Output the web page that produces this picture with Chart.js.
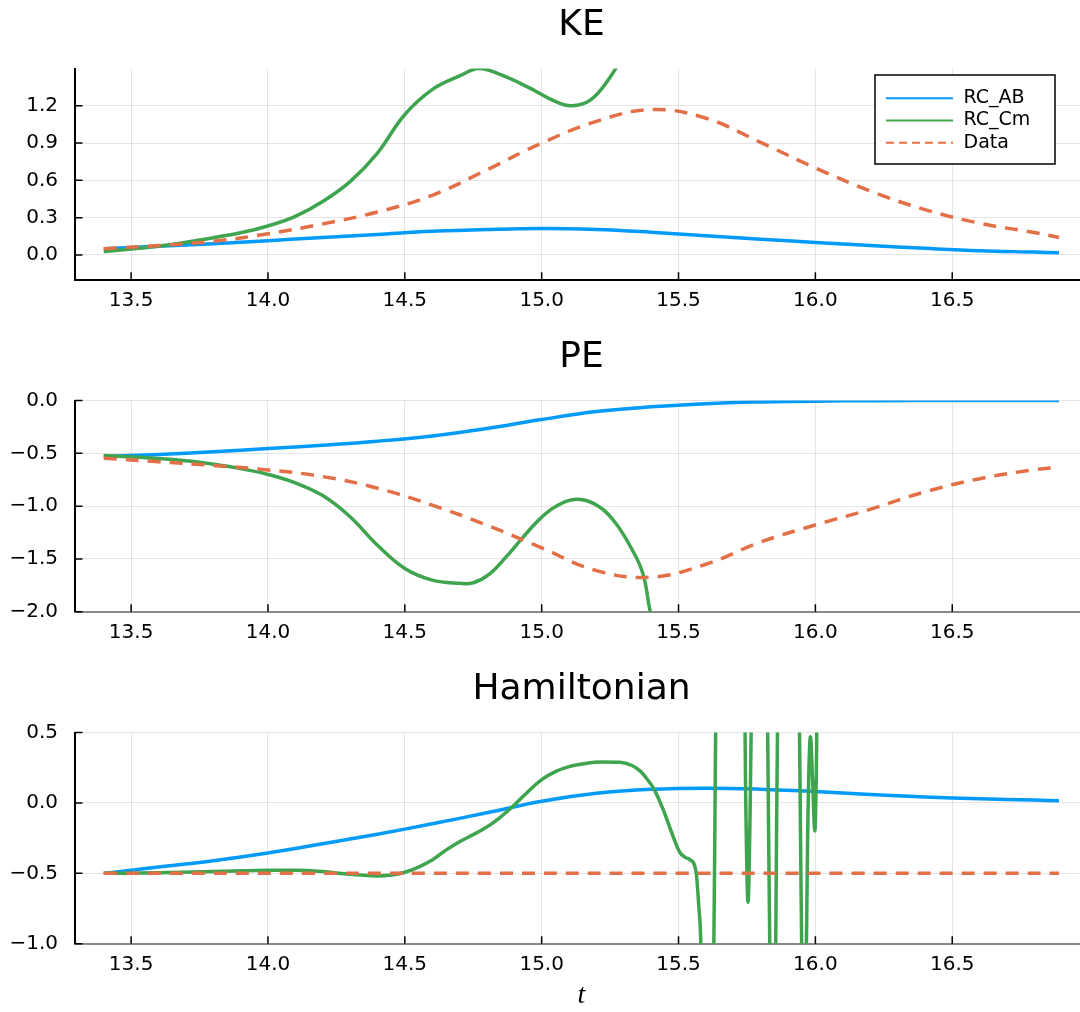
<!DOCTYPE html>
<html>
<head>
<meta charset="utf-8">
<script src="https://cdn.jsdelivr.net/npm/chart.js@4.4.0/dist/chart.umd.min.js"></script>
<style>
  html, body { margin: 0; padding: 0; background: #fff; overflow: hidden; width: 1080px; height: 1012px; }
  canvas { position: absolute; left: 0; }
</style>
</head>
<body>
<canvas id="keChart" width="1088" height="332" style="top:0px"></canvas>
<canvas id="peChart" width="1088" height="332" style="top:332px"></canvas>
<canvas id="hChart" width="1088" height="348" style="top:664px"></canvas>
<script>
/* --- Data --- */
const X_TICKS = [13.5, 14.0, 14.5, 15.0, 15.5, 16.0, 16.5];

// KE
const keAbT = [13.4, 13.6, 13.8, 14.0, 14.2, 14.4, 14.6, 14.8, 15.0, 15.2, 15.4, 15.6, 15.8, 16.0, 16.2, 16.4, 16.6, 16.8, 16.89];
const keAb  = [0.05, 0.07, 0.09, 0.115, 0.14, 0.165, 0.19, 0.205, 0.213, 0.205, 0.183, 0.155, 0.127, 0.10, 0.075, 0.053, 0.034, 0.023, 0.018];
const keCmT = [13.4, 13.6, 13.75, 13.9, 14.0, 14.1, 14.2, 14.3, 14.4, 14.5, 14.6, 14.7, 14.77, 14.85, 14.95, 15.05, 15.11, 15.18, 15.25, 15.3, 15.36];
const keCm  = [0.027, 0.07, 0.12, 0.178, 0.233, 0.31, 0.43, 0.59, 0.82, 1.13, 1.33, 1.44, 1.50, 1.45, 1.35, 1.235, 1.20, 1.25, 1.43, 1.62, 1.9];
const keDataT = [13.4, 13.6, 13.8, 14.0, 14.2, 14.4, 14.6, 14.8, 15.0, 15.2, 15.4, 15.6, 15.8, 16.0, 16.2, 16.4, 16.6, 16.8, 16.89];
const keData  = [0.05, 0.075, 0.11, 0.17, 0.25, 0.345, 0.48, 0.685, 0.90, 1.075, 1.17, 1.10, 0.905, 0.70, 0.515, 0.365, 0.255, 0.18, 0.14];
const keTicks = [0.0, 0.3, 0.6, 0.9, 1.2];

// PE
const peAbT = [13.4, 13.6, 13.8, 14.0, 14.2, 14.4, 14.6, 14.8, 15.0, 15.2, 15.4, 15.6, 15.8, 16.0, 16.2, 16.5, 16.89];
const peAb  = [-0.53, -0.51, -0.485, -0.455, -0.423, -0.385, -0.335, -0.265, -0.18, -0.105, -0.06, -0.03, -0.014, -0.006, -0.002, 0, 0];
const peCmT = [13.4, 13.6, 13.75, 13.9, 14.0, 14.1, 14.2, 14.3, 14.4, 14.5, 14.6, 14.7, 14.75, 14.81, 14.87, 14.93, 14.99, 15.05, 15.13, 15.21, 15.27, 15.33, 15.37, 15.395, 15.43];
const peCm  = [-0.52, -0.55, -0.585, -0.645, -0.70, -0.78, -0.90, -1.10, -1.37, -1.59, -1.70, -1.73, -1.725, -1.64, -1.48, -1.30, -1.13, -1.005, -0.935, -1.005, -1.16, -1.41, -1.64, -1.98, -2.4];
const peDataT = [13.4, 13.6, 13.8, 14.0, 14.2, 14.4, 14.6, 14.8, 15.0, 15.2, 15.4, 15.6, 15.8, 16.0, 16.2, 16.4, 16.6, 16.8, 16.89];
const peData  = [-0.546, -0.58, -0.615, -0.657, -0.72, -0.83, -0.99, -1.18, -1.395, -1.61, -1.672, -1.55, -1.34, -1.178, -1.03, -0.865, -0.74, -0.655, -0.63];
const peTicks = [-2.0, -1.5, -1.0, -0.5, 0.0];

// Hamiltonian
const hAbT = [13.4, 13.6, 13.8, 14.0, 14.2, 14.4, 14.6, 14.8, 15.0, 15.2, 15.4, 15.6, 15.8, 16.0, 16.2, 16.4, 16.6, 16.8, 16.89];
const hAb  = [-0.5, -0.455, -0.41, -0.355, -0.29, -0.222, -0.148, -0.07, 0.012, 0.068, 0.097, 0.105, 0.098, 0.082, 0.06, 0.042, 0.029, 0.02, 0.015];
const hCmT = [13.4, 13.6, 13.8, 14.0, 14.1, 14.2, 14.3, 14.4, 14.5,
  14.6, 14.65, 14.7, 14.75, 14.8, 14.85, 14.9, 14.95, 15.0,
  15.05, 15.1, 15.16, 15.22, 15.285, 15.33, 15.36, 15.385, 15.41,
  15.444, 15.48, 15.505, 15.523, 15.541, 15.559, 15.566, 15.574, 15.581,
  15.59, 15.61, 15.624, 15.632, 15.64, 15.69,
  15.735, 15.745, 15.754, 15.762, 15.772, 15.8,
  15.822, 15.829, 15.836, 15.845, 15.852, 15.858, 15.864, 15.9,
  15.938, 15.946, 15.952, 15.958, 15.964, 15.972, 15.982, 15.99, 15.998, 16.004, 16.01, 16.03];
const hCm  = [-0.5, -0.495, -0.487, -0.478, -0.477, -0.487, -0.507, -0.518, -0.492,
  -0.405, -0.335, -0.275, -0.225, -0.17, -0.10, -0.015, 0.08, 0.165,
  0.222, 0.258, 0.28, 0.29, 0.288, 0.266, 0.226, 0.17, 0.10,
  -0.047, -0.237, -0.352, -0.385, -0.402, -0.445, -0.52, -0.733, -0.969,
  -2.0, -3.0, -2.0, -0.36, 1.4, 3.0,
  2.0, 0.1, -0.705, 0.0, 1.5, 3.0,
  1.2, -0.2, -1.5, -3.0, -1.8, -0.25, 1.0, 3.0,
  1.2, -0.3, -1.4, -2.5, -1.6, -0.2, 0.47, 0.15, -0.2, 0.3, 1.5, 3.0];
const hDataT = [13.4, 16.89];
const hData  = [-0.5, -0.5];
const hTicks = [-1.0, -0.5, 0.0, 0.5];

/* --- Style --- */
const FONT = '"DejaVu Sans", sans-serif';
const BLUE = '#009AFA';
const GREEN = '#3EA44E';
const ORANGE = '#E36F47';
const X_MIN = 13.295;
const X_MAX = 16.996;

Chart.defaults.font.family = FONT;
Chart.defaults.color = '#000';

function fmt(v){
  return (v < 0 ? '\u2212' : '') + Math.abs(v).toFixed(1);
}

// mjuk kurva som standard, monoton där linjen hoppar (Hamiltonian RC_Cm)
function series(label, xs, ys, color, dashed, order, monotone){
  return {
    label,
    data: xs.map((t, i) => ({ x: t, y: ys[i] })),
    borderColor: color,
    backgroundColor: color,
    borderWidth: 3.5,
    borderDash: dashed ? [13, 9] : [],
    pointRadius: 0,
    tension: monotone ? 0 : 0.4,
    cubicInterpolationMode: monotone ? 'monotone' : 'default',
    capBezierPoints: false,
    fill: false,
    order
  };
}

/* --- Inåtriktade tickmarkeringar --- */
const innerTicks = {
  id: 'innerTicks',
  beforeDatasetsDraw(chart){
    const { ctx, chartArea: { left, bottom }, scales: { x, y } } = chart;
    ctx.save();
    ctx.strokeStyle = '#000';
    ctx.lineWidth = 1.5;
    ctx.beginPath();
    x.ticks.forEach(t => {
      const px = x.getPixelForValue(t.value);
      ctx.moveTo(px, bottom);
      ctx.lineTo(px, bottom - 7.5);
    });
    y.ticks.forEach(t => {
      const py = y.getPixelForValue(t.value);
      ctx.moveTo(left, py);
      ctx.lineTo(left + 7.5, py);
    });
    ctx.stroke();
    ctx.restore();
  }
};

/* --- Titel centrerad över plotytan --- */
const panelTitle = {
  id: 'panelTitle',
  afterDraw(chart, args, opts){
    const { ctx, chartArea } = chart;
    ctx.save();
    ctx.font = '36px ' + FONT;
    ctx.fillStyle = '#000';
    ctx.textAlign = 'center';
    ctx.textBaseline = 'middle';
    ctx.fillText(opts.text, (chartArea.left + chartArea.right) / 2, chartArea.top - 43);
    ctx.restore();
  }
};

/* --- Legend med ram --- */
const boxLegend = {
  id: 'boxLegend',
  afterDraw(chart, args, opts){
    if (!opts.show) return;
    const { ctx, chartArea } = chart;
    const w = 180, h = 89;
    const x0 = chartArea.right - 33 - w;
    const y0 = chartArea.top + 6.5;
    ctx.save();
    ctx.fillStyle = '#fff';
    ctx.fillRect(x0, y0, w, h);
    ctx.strokeStyle = '#000';
    ctx.lineWidth = 1.5;
    ctx.strokeRect(x0, y0, w, h);
    ctx.font = '19px ' + FONT;
    ctx.textAlign = 'left';
    ctx.textBaseline = 'middle';
    chart.data.datasets.forEach((ds, i) => {
      const yy = y0 + 23.3 + i * 22.2;
      ctx.strokeStyle = ds.borderColor;
      ctx.lineWidth = 2;
      ctx.setLineDash(ds.borderDash.length ? [8, 5] : []);
      ctx.beginPath();
      ctx.moveTo(x0 + 11, yy);
      ctx.lineTo(x0 + 78, yy);
      ctx.stroke();
      ctx.setLineDash([]);
      ctx.fillStyle = '#000';
      ctx.fillText(ds.label, x0 + 88.5, yy);
    });
    ctx.restore();
  }
};

function makeChart(id, title, datasets, yMin, yMax, yTicks, xHeight, bottomColor, showLegend, xTitle){
  return new Chart(document.getElementById(id), {
    type: 'line',
    data: { datasets },
    options: {
      responsive: false,
      animation: false,
      devicePixelRatio: 1,
      layout: { padding: { top: 68.5, left: 0, right: 0, bottom: 0 } },
      plugins: {
        legend: { display: false },
        tooltip: { enabled: false },
        panelTitle: { text: title },
        boxLegend: { show: showLegend }
      },
      scales: {
        x: {
          type: 'linear',
          min: X_MIN,
          max: X_MAX,
          afterBuildTicks: s => { s.ticks = X_TICKS.map(v => ({ value: v })); },
          afterFit: s => { s.height = xHeight; },
          ticks: {
            callback: v => v.toFixed(1),
            font: { size: 20 },
            color: '#000',
            padding: 9,
            maxRotation: 0,
            autoSkip: false
          },
          grid: { color: 'rgba(0,0,0,0.1)', lineWidth: 1, drawTicks: false },
          border: { display: true, color: bottomColor, width: 2 },
          title: xTitle ? {
            display: true,
            text: xTitle,
            color: '#000',
            font: { family: '"Liberation Serif", serif', style: 'italic', size: 28 },
            padding: 0
          } : { display: false }
        },
        y: {
          min: yMin,
          max: yMax,
          afterBuildTicks: s => { s.ticks = yTicks.map(v => ({ value: v })); },
          afterFit: s => { s.width = 75; },
          ticks: {
            callback: v => fmt(v),
            font: { size: 20 },
            color: '#000',
            padding: 17
          },
          grid: { color: 'rgba(0,0,0,0.1)', lineWidth: 1, drawTicks: false },
          border: { display: true, color: '#000', width: 2 }
        }
      }
    },
    plugins: [innerTicks, panelTitle, boxLegend]
  });
}

makeChart('keChart', 'KE', [
  series('RC_AB', keAbT, keAb, BLUE, false, 3, false),
  series('RC_Cm', keCmT, keCm, GREEN, false, 2, false),
  series('Data', keDataT, keData, ORANGE, true, 1, false)
], -0.2, 1.5, keTicks, 52.2, '#000', true, null);

makeChart('peChart', 'PE', [
  series('RC_AB', peAbT, peAb, BLUE, false, 3, false),
  series('RC_Cm', peCmT, peCm, GREEN, false, 2, false),
  series('Data', peDataT, peData, ORANGE, true, 1, false)
], -2.0, 0.0, peTicks, 52.2, '#888', false, null);

makeChart('hChart', 'Hamiltonian', [
  series('RC_AB', hAbT, hAb, BLUE, false, 3, false),
  series('RC_Cm', hCmT, hCm, GREEN, false, 2, true),
  series('Data', hDataT, hData, ORANGE, true, 1, false)
], -1.0, 0.5, hTicks, 68.2, '#888', false, 't');
</script>
</body>
</html>
